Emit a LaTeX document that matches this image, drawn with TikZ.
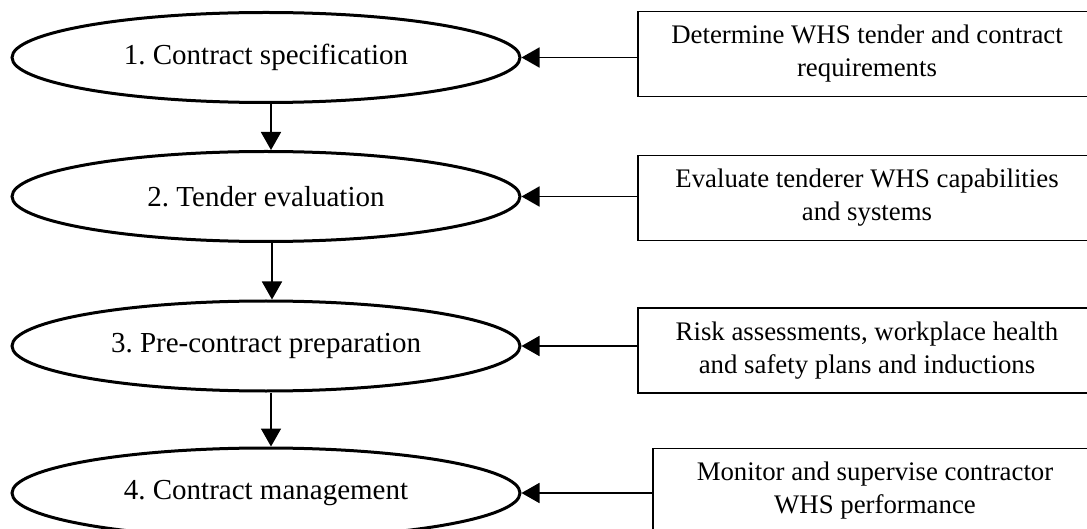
\documentclass[tikz,border=0pt]{standalone}
\usepackage{fontspec}
\setmainfont{Liberation Serif}
\usetikzlibrary{shapes.geometric,arrows.meta}
\tikzset{
  stage/.style={ellipse, draw, line width=1.5pt, minimum width=254pt, minimum height=45pt, inner sep=0pt, font=\fontsize{14.5}{17}\selectfont},
  task/.style={rectangle, draw, line width=0.9pt, minimum height=42.5pt, inner sep=2pt, align=center, font=\fontsize{13.4}{16.5}\selectfont},
  arr/.style={line width=0.9pt, -{Triangle[length=9pt,width=10pt]}}
}
\begin{document}
\frenchspacing
\begin{tikzpicture}[x=0.5pt, y=-0.5pt]
\useasboundingbox (0,0) rectangle (1087,529);
\clip (0,0) rectangle (1087,529);
\node[stage] (e1) at (266,57.5) {1. Contract specification};
\node[stage] (e2) at (266,196.5) {2. Tender evaluation};
\node[stage] (e3) at (266,346) {3. Pre-contract preparation};
\node[stage] (e4) at (266,493) {4. Contract management};
\node[task, minimum width=229pt] (b1) at (867,54) {Determine WHS tender and contract\\requirements};
\node[task, minimum width=229pt] (b2) at (867,198) {Evaluate tenderer WHS capabilities\\and systems};
\node[task, minimum width=229pt] (b3) at (867,350.5) {Risk assessments, workplace health\\and safety plans and inductions};
\node[task, minimum width=222pt] (b4) at (875,491) {Monitor and supervise contractor\\WHS performance};
\draw[arr] ([xshift=2.5pt]e1.south) -- ([xshift=2.5pt]e2.north);
\draw[arr] ([xshift=3pt]e2.south) -- ([xshift=3pt]e3.north);
\draw[arr] ([xshift=2.5pt]e3.south) -- ([xshift=2.5pt]e4.north);
\draw[arr] (e1.east -| b1.west) -- (e1.east);
\draw[arr] (e2.east -| b2.west) -- (e2.east);
\draw[arr] (e3.east -| b3.west) -- (e3.east);
\draw[arr] (e4.east -| b4.west) -- (e4.east);
\end{tikzpicture}
\end{document}
